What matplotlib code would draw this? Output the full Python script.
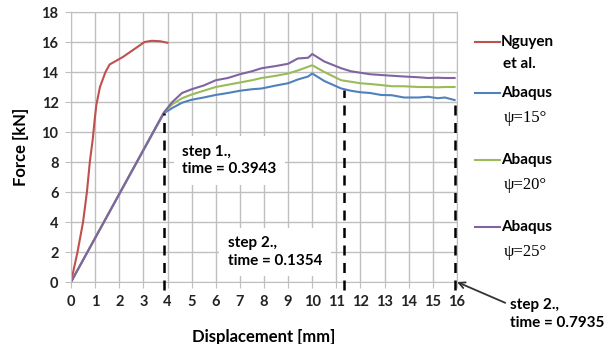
import numpy as np
import matplotlib.pyplot as plt
from matplotlib.lines import Line2D

# data
nguyen_d = [0, 0.27, 0.5, 0.66, 0.78, 0.9, 0.98, 1.05, 1.2, 1.43, 1.6, 2.15, 2.6, 3.05, 3.35, 3.7, 4.0]
nguyen_f = [0, 2, 4, 6, 8, 9.5, 10.8, 11.8, 13, 14, 14.5, 15, 15.5, 16, 16.08, 16.05, 15.95]

abq_d = [0, 3.85, 4.2, 4.6, 5.0, 5.5, 6.0, 6.5, 7.0, 7.5, 7.9, 8.5, 9.0, 9.4, 9.83, 10.0,
         10.5, 11.2, 11.6, 12.0, 12.4, 12.85, 13.3, 13.8, 14.4, 14.8, 15.2, 15.5, 15.9]
psi15_f = [0, 11.25, 11.6, 11.95, 12.15, 12.3, 12.47, 12.6, 12.75, 12.85, 12.9, 13.1, 13.25, 13.5, 13.7, 13.9,
           13.4, 12.9, 12.75, 12.65, 12.6, 12.47, 12.45, 12.3, 12.3, 12.35, 12.25, 12.3, 12.13]
psi20_f = [0, 11.3, 11.85, 12.25, 12.5, 12.75, 13.0, 13.15, 13.3, 13.45, 13.6, 13.75, 13.9, 14.1, 14.35, 14.45,
           14.0, 13.45, 13.35, 13.25, 13.2, 13.13, 13.05, 13.05, 13.0, 13.0, 12.98, 13.0, 13.0]
psi25_f = [0, 11.3, 12.0, 12.6, 12.85, 13.1, 13.45, 13.6, 13.85, 14.05, 14.25, 14.4, 14.55, 14.9, 14.95, 15.2,
           14.7, 14.25, 14.05, 13.95, 13.85, 13.8, 13.75, 13.7, 13.65, 13.6, 13.62, 13.6, 13.6]

labels = [("Nguyen", "et al."), ("Abaqus", "ψ=15°"), ("Abaqus", "ψ=20°"), ("Abaqus", "ψ=25°")]
colors = ["#c0504d", "#4f81bd", "#9bbb59", "#8064a2"]

step_x = [3.85, 11.3, 15.9]
step_top = [11.25, 12.8, 12.15]
step_text = ["step 1.,\ntime = 0.3943", "step 2.,\ntime = 0.1354", "step 2.,\ntime = 0.7935"]

plt.rcParams['font.family'] = ['Lato', 'DejaVu Sans']
plt.rcParams['font.weight'] = 'bold'

W, H = 614, 344
fig = plt.figure(figsize=(W / 100, H / 100), dpi=100)
ax = fig.add_axes([71 / W, 1 - 282 / H, (457 - 71) / W, (282 - 12) / H])

ax.plot(nguyen_d, nguyen_f, color=colors[0], lw=1.5)
ax.plot(abq_d, psi15_f, color=colors[1], lw=1.5)
ax.plot(abq_d, psi20_f, color=colors[2], lw=1.5)
ax.plot(abq_d, psi25_f, color=colors[3], lw=1.5)

ax.set_xlim(0, 16)
ax.set_ylim(0, 18)
ax.set_xticks(range(0, 17))
ax.set_yticks(range(0, 19, 2))
ax.grid(True, color="#bfbfbf", lw=1)
ax.set_axisbelow(True)
for s in ax.spines.values():
    s.set_color("#bfbfbf")
ax.tick_params(colors="#bfbfbf", length=4, labelcolor="#222222", labelsize=10.5, pad=5)
for lab in ax.get_xticklabels() + ax.get_yticklabels():
    lab.set_fontweight("bold")

ax.set_xlabel("Displacement [mm]", fontsize=12, fontweight="bold", labelpad=15)
ax.set_ylabel("Force [kN]", fontsize=12, fontweight="bold", labelpad=9)

# dashed step markers
for x, top in zip(step_x, step_top):
    ax.plot([x, x], [-0.5, top], color="black", lw=1.8, ls=(0, (4, 3)), clip_on=False, zorder=5)

box = dict(facecolor="white", edgecolor="none", pad=6)
ax.text(4.6, 8.1, step_text[0], fontsize=11, fontweight="bold", va="center", ha="left",
        bbox=box, linespacing=1.35, zorder=4)
ax.text(6.5, 2.0, step_text[1], fontsize=11, fontweight="bold", va="center", ha="left",
        bbox=box, linespacing=1.35, zorder=4)
ax.annotate(step_text[2], xy=(16, 0), xytext=(510 / W, 1 - 314 / H), textcoords="figure fraction",
            fontsize=11, fontweight="bold", va="center", ha="left", linespacing=1.35,
            arrowprops=dict(arrowstyle="->", color="#333333", lw=1.3,
                            shrinkA=0, shrinkB=0, relpos=(-0.05, 0.85)),
            annotation_clip=False)

# legend drawn beside the plot
leg_y = [42, 93, 160, 227]
for (l1, l2), c, y in zip(labels, colors, leg_y):
    fy = 1 - y / H
    fig.add_artist(Line2D([475 / W, 500 / W], [fy, fy], color=c, lw=1.5))
    fig.text(501 / W, fy, l1, fontsize=11, fontweight="bold", va="center", ha="left")
    if l2.startswith("ψ"):
        fig.text(504 / W, 1 - (y + 25) / H, l2, fontsize=12, va="center", ha="left",
                 family=["Liberation Serif", "DejaVu Serif"], fontweight="normal")
    else:
        fig.text(503 / W, 1 - (y + 22) / H, l2, fontsize=11, va="center", ha="left",
                 fontweight="bold")

fig.savefig("out.png", dpi=100)
